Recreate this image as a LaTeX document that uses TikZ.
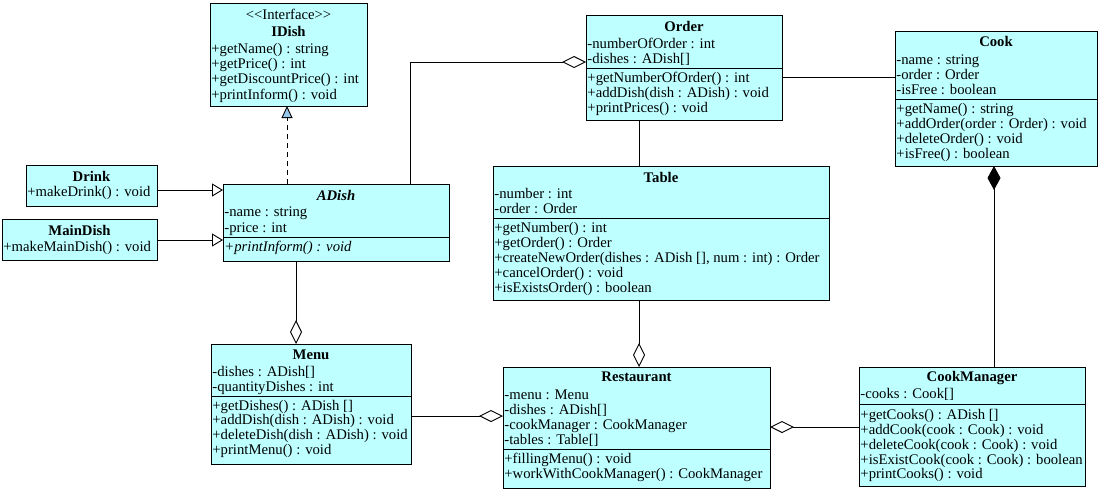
\documentclass[tikz,border=0pt]{standalone}
\usepackage{amsmath}
\usepackage{fontspec}
\usepackage{tikz}
\usepackage{color}
\usetikzlibrary{arrows.meta}
\setmainfont{Liberation Serif}

\definecolor{clsfill}{RGB}{190,255,255}
\definecolor{tipfill}{RGB}{150,200,235}

\begin{document}
\begin{tikzpicture}[x=1pt,y=-1pt,line width=0.9pt,
  cls/.style={draw,fill=clsfill,anchor=north west,inner sep=0pt,outer sep=0pt},
  txt/.style={anchor=base west,inner sep=0pt,font=\fontsize{14.7}{17}\selectfont},
  ttl/.style={anchor=base,inner sep=0pt,font=\fontsize{14.7}{17}\selectfont\bfseries},
  gen/.style={-{Triangle[open,length=11pt,width=13pt,fill=white]}},
  real/.style={dashed,dash pattern=on 5pt off 4pt,-{Triangle[length=12pt,width=11pt,fill=tipfill]}},
  aggr/.style={-{Diamond[open,length=24pt,width=12pt,fill=white]}},
  comp/.style={-{Diamond[length=24pt,width=13pt]}}]
\useasboundingbox (0,0) rectangle (1099,493);

% interface
\node[cls,minimum width=157pt,minimum height=103pt] (idish) at (210,3) {};
\node[ttl,font=\fontsize{14.7}{17}\selectfont] (idish-s) at (idish.north |- 0,19) {<{}<Interface>{}>};
\node[ttl] (idish-t) at (idish.north |- 0,36) {IDish};
\foreach \t [count=\i] in {+getName() : string, +getPrice() : int,
    +getDiscountPrice() : int, +printInform() : void}
  \node[txt] (idish-o\i) at (211,{53.3+15.3*(\i-1)}) {\t};

% dishes
\node[cls,minimum width=131pt,minimum height=41pt] (drink) at (26,165) {};
\node[ttl] (drink-t) at (drink.north |- 0,181) {Drink};
\node[txt] (drink-o1) at (27,196.7) {+makeDrink() : void};

\node[cls,minimum width=155pt,minimum height=41pt] (maindish) at (2,219) {};
\node[ttl] (maindish-t) at (maindish.north |- 0,235) {MainDish};
\node[txt] (maindish-o1) at (3,251.7) {+makeMainDish() : void};

\node[cls,minimum width=226pt,minimum height=77pt] (adish) at (223,184) {};
\node[ttl,font=\fontsize{14.7}{17}\selectfont\bfseries\itshape] (adish-t) at (adish.north |- 0,200) {ADish};
\node[txt] (adish-a1) at (224,216.7) {-name : string};
\node[txt] (adish-a2) at (224,232.3) {-price : int};
\draw (adish.west |- 0,237.3) -- (adish.east |- 0,237.3);
\node[txt,font=\fontsize{14.7}{17}\selectfont\itshape] (adish-o1) at (224,251.7) {+printInform() : void};

% order
\node[cls,minimum width=196pt,minimum height=105pt] (order) at (586,15) {};
\node[ttl] (order-t) at (order.north |- 0,31) {Order};
\foreach \t [count=\i] in {-numberOfOrder : int, -dishes : ADish[]}
  \node[txt] (order-a\i) at (587,{48.3+15*(\i-1)}) {\t};
\draw (order.west |- 0,68) -- (order.east |- 0,68);
\foreach \t [count=\i] in {+getNumberOfOrder() : int, +addDish(dish : ADish) : void,
    +printPrices() : void}
  \node[txt] (order-o\i) at (587,{82.7+15*(\i-1)}) {\t};

% cook
\node[cls,minimum width=202pt,minimum height=135pt] (cook) at (895,31) {};
\node[ttl] (cook-t) at (cook.north |- 0,46.7) {Cook};
\foreach \t [count=\i] in {-name : string, -order : Order, -isFree : boolean}
  \node[txt] (cook-a\i) at (896,{64.3+15*(\i-1)}) {\t};
\draw (cook.west |- 0,99) -- (cook.east |- 0,99);
\foreach \t [count=\i] in {+getName() : string, +addOrder(order : Order) : void,
    +deleteOrder() : void, +isFree() : boolean}
  \node[txt] (cook-o\i) at (896,{113.3+15*(\i-1)}) {\t};

% table
\node[cls,minimum width=336pt,minimum height=134pt] (table) at (493,166) {};
\node[ttl] (table-t) at (table.north |- 0,182) {Table};
\foreach \t [count=\i] in {-number : int, -order : Order}
  \node[txt] (table-a\i) at (494,{198.3+15*(\i-1)}) {\t};
\draw (table.west |- 0,218) -- (table.east |- 0,218);
\foreach \t [count=\i] in {+getNumber() : int, +getOrder() : Order,
    {+createNewOrder(dishes : ADish [], num : int) : Order},
    +cancelOrder() : void, +isExistsOrder() : boolean}
  \node[txt] (table-o\i) at (494,{232.7+15*(\i-1)}) {\t};

% menu
\node[cls,minimum width=200pt,minimum height=120pt] (menu) at (211,344) {};
\node[ttl] (menu-t) at (menu.north |- 0,359.3) {Menu};
\foreach \t [count=\i] in {-dishes : ADish[], -quantityDishes : int}
  \node[txt] (menu-a\i) at (212,{376.7+14.5*(\i-1)}) {\t};
\draw (menu.west |- 0,396) -- (menu.east |- 0,396);
\foreach \t [count=\i] in {+getDishes() : ADish [], +addDish(dish : ADish) : void,
    +deleteDish(dish : ADish) : void, +printMenu() : void}
  \node[txt] (menu-o\i) at (212,{410+14.8*(\i-1)}) {\t};

% restaurant
\node[cls,minimum width=267pt,minimum height=121pt] (restaurant) at (503,367) {};
\node[ttl] (restaurant-t) at (restaurant.north |- 0,381.7) {Restaurant};
\foreach \t [count=\i] in {-menu : Menu, -dishes : ADish[],
    -cookManager : CookManager, -tables : Table[]}
  \node[txt] (restaurant-a\i) at (504,{399.3+14.9*(\i-1)}) {\t};
\draw (restaurant.west |- 0,449) -- (restaurant.east |- 0,449);
\foreach \t [count=\i] in {+fillingMenu() : void, +workWithCookManager() : CookManager}
  \node[txt] (restaurant-o\i) at (504,{463.3+15*(\i-1)}) {\t};

% cook manager
\node[cls,minimum width=226pt,minimum height=119pt] (cookmanager) at (859,367) {};
\node[ttl] (cookmanager-t) at (cookmanager.north |- 0,381.7) {CookManager};
\node[txt] (cookmanager-a1) at (860,398.3) {-cooks : Cook[]};
\draw (cookmanager.west |- 0,404) -- (cookmanager.east |- 0,404);
\foreach \t [count=\i] in {+getCooks() : ADish [], +addCook(cook : Cook) : void,
    +deleteCook(cook : Cook) : void, +isExistCook(cook : Cook) : boolean,
    +printCooks() : void}
  \node[txt] (cookmanager-o\i) at (860,{419.3+14.9*(\i-1)}) {\t};

% connectors
\coordinate (gy1) at (0,190);
\coordinate (gy2) at (0,240);
\coordinate (rx) at (287,0);
\coordinate (ax) at (410,0);
\coordinate (oy) at (0,62);
\coordinate (cy) at (0,77);
\coordinate (tx) at (639,0);
\coordinate (mx) at (296,0);
\coordinate (ry) at (0,416);
\coordinate (ky) at (0,427);
\coordinate (kx) at (994,0);
\draw[gen] (drink.east |- gy1) -- (adish.west |- gy1);
\draw[gen] (maindish.east |- gy2) -- (adish.west |- gy2);
\draw[real] (adish.north -| rx) -- (idish.south -| rx);
\draw[aggr] (adish.north -| ax) |- (order.west |- oy);
\draw (order.east |- cy) -- (cook.west |- cy);
\draw (order.south -| tx) -- (table.north -| tx);
\draw[aggr] (table.south -| tx) -- (restaurant.north -| tx);
\draw[aggr] (adish.south -| mx) -- (menu.north -| mx);
\draw[aggr] (menu.east |- ry) -- (restaurant.west |- ry);
\draw[aggr] (cookmanager.west |- ky) -- (restaurant.east |- ky);
\draw[comp] (cookmanager.north -| kx) -- (cook.south -| kx);
\end{tikzpicture}
\end{document}
